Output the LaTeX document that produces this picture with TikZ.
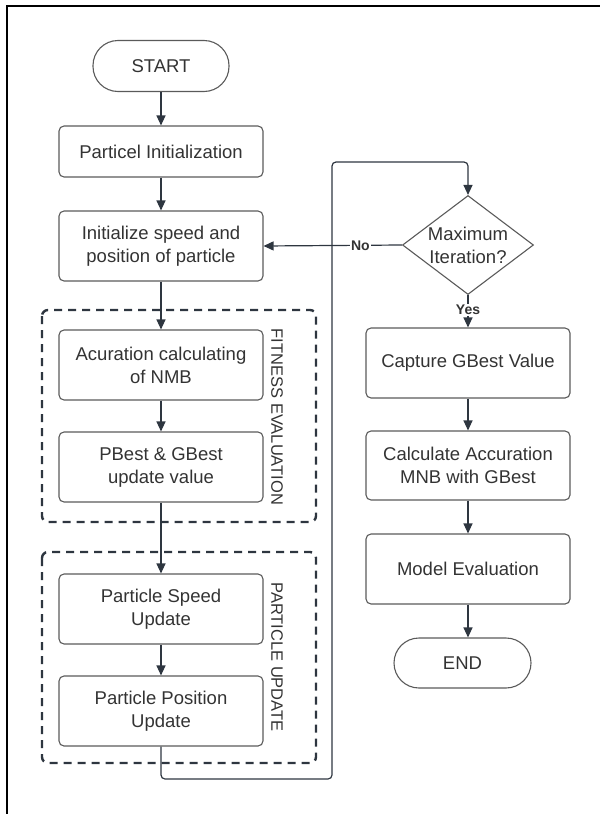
\documentclass[tikz,border=0pt]{standalone}
\usepackage{fontspec}
\setmainfont{Liberation Sans}
\usetikzlibrary{arrows.meta,shapes.geometric}
\definecolor{txt}{HTML}{333333}
\definecolor{boxline}{HTML}{5A5A5A}
\definecolor{arr}{HTML}{2E3640}
\begin{document}
\begin{tikzpicture}[x=1pt,y=-1pt,
  every node/.style={text=txt,font=\fontsize{18.5}{23}\selectfont},
  procbox/.style={draw=boxline,line width=1.1pt,rounded corners=5pt,minimum width=204pt,align=center,inner sep=0pt},
  termbox/.style={draw=boxline,line width=1.1pt,rounded corners=25pt,align=center,inner sep=0pt},
  grpbox/.style={draw=arr,line width=2.4pt,dash pattern=on 8pt off 6pt,rounded corners=6pt},
  flow/.style={draw=arr,line width=1.2pt,-{Triangle[length=10pt,width=9pt]}},
  grplabel/.style={rotate=-90,font=\fontsize{16.5}{20}\selectfont},
  decl/.style={fill=white,inner sep=1pt,font=\fontsize{14}{16}\selectfont\bfseries}
]
\useasboundingbox (0,0) rectangle (600,814);
% outer frame (top and left only)
\draw[line width=2.6pt,black] (7,814) -- (7,6) -- (600,6);

% group boxes
\draw[grpbox] (42,310) rectangle (316,522);
\draw[grpbox] (42,552) rectangle (316,763);
\node[grplabel] (lfe) at (277,417) {FITNESS EVALUATION};
\node[grplabel] (lpu) at (277,657) {PARTICLE UPDATE};

% left column
\node[termbox,minimum width=136pt,minimum height=51pt] (start) at (161,66) {START};
\node[procbox,minimum height=51pt] (pinit) at (161,151.5) {Particel Initialization};
\node[procbox,minimum height=70pt] (initsp) at (161,246) {Initialize speed and\\position of particle};
\node[procbox,minimum height=70pt] (acc) at (161,365) {Acuration calculating\\of NMB};
\node[procbox,minimum height=70pt] (pbest) at (161,467) {PBest \& GBest\\update value};
\node[procbox,minimum height=70pt] (speed) at (161,609) {Particle Speed\\Update};
\node[procbox,minimum height=70pt] (pos) at (161,711) {Particle Position\\Update};

% right column
\node[diamond,draw=boxline,line width=1.1pt,aspect=1.32,inner sep=0pt,minimum width=131pt,minimum height=99pt,align=center] (diam) at (468,245) {Maximum\\Iteration?};
\node[procbox,minimum height=70pt] (capture) at (468,363) {Capture GBest Value};
\node[procbox,minimum height=69pt] (calc) at (468,465.5) {Calculate Accuration\\MNB with GBest};
\node[procbox,minimum height=70pt] (model) at (468,569) {Model Evaluation};
\node[termbox,minimum width=137pt,minimum height=50pt] (end) at (462.5,663) {END};

% connectors
\draw[flow] (start) -- (pinit);
\draw[flow] (pinit) -- (initsp);
\draw[flow] (initsp) -- (acc);
\draw[flow] (acc) -- (pbest);
\draw[flow] (pbest) -- (speed);
\draw[flow] (speed) -- (pos);
\coordinate (c1) at (161,779);
\coordinate (c2) at (332,779);
\coordinate (c3) at (332,162);
\coordinate (c4) at (468,162);
\draw[flow,rounded corners=4pt] (pos.south) -- (c1) -- (c2) -- (c3) -- (c4) -- (diam.north);
\draw[flow] (diam.west) -- node[decl,pos=0.3] (no) {No} (initsp.east);
\draw[flow] (diam.south) -- node[decl,pos=0.45] (yes) {Yes} (capture.north);
\draw[flow] (capture) -- (calc);
\draw[flow] (calc) -- (model);
\draw[flow] (model) -- (end.north -| model.south);
\end{tikzpicture}
\end{document}
